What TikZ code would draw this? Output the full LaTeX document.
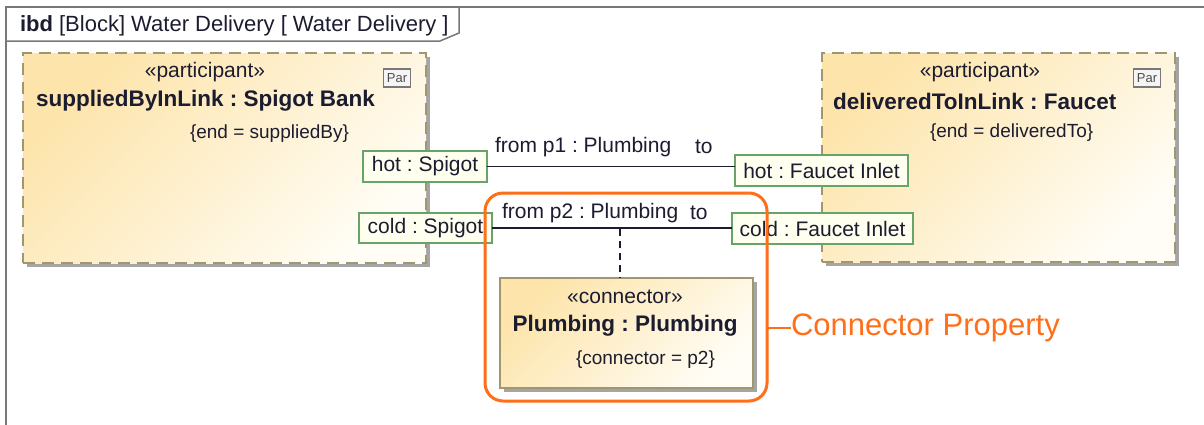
\documentclass[tikz,border=0pt]{standalone}
\usepackage{fontspec}
\setmainfont{Liberation Sans}
\usetikzlibrary{shadows}
\frenchspacing
\definecolor{framec}{RGB}{120,120,120}
\definecolor{txt}{RGB}{28,28,48}
\definecolor{blockA}{RGB}{253,228,170}
\definecolor{blockB}{RGB}{255,253,245}
\definecolor{blockline}{RGB}{160,150,112}
\definecolor{shadowc}{RGB}{165,165,165}
\definecolor{portline}{RGB}{104,164,104}
\definecolor{portfill}{RGB}{255,255,240}
\definecolor{orangec}{RGB}{255,110,24}
\tikzset{
  basetext/.style={inner sep=0pt, outer sep=0pt, text=txt, font=\fontsize{21}{24}\selectfont},
  boldtext/.style={basetext, font=\fontsize{22.5}{25}\selectfont\bfseries},
  smalltext/.style={basetext, font=\fontsize{19}{22}\selectfont},
  shadedfill/.style={top color=blockA, bottom color=blockB, shading angle=45},
  partblock/.style={rectangle, inner sep=0pt, outer sep=0pt, shadedfill,
     draw=blockline, line width=1.5pt, dash pattern=on 12pt off 7pt,
     drop shadow={shadow xshift=4pt, shadow yshift=-4pt, fill=shadowc, opacity=1, draw=none}},
  connbox/.style={rectangle, inner sep=0pt, outer sep=0pt, shadedfill,
     draw=blockline, line width=1.5pt,
     drop shadow={shadow xshift=4pt, shadow yshift=-4pt, fill=shadowc, opacity=1, draw=none}},
  portbox/.style={rectangle, inner sep=0pt, outer sep=0pt, draw=portline, line width=1.5pt,
     fill=portfill, text=txt, font=\fontsize{21}{24}\selectfont},
  paricon/.style={rectangle, inner sep=0pt, outer sep=0pt, draw=framec, line width=1.2pt,
     fill=white!92!gray, minimum width=27pt, minimum height=18pt, text=black!70,
     font=\fontsize{13}{14}\selectfont},
  wire/.style={draw=txt, line width=1.2pt},
  hilite/.style={rectangle, draw=orangec, line width=3pt, rounded corners=18pt,
     inner sep=0pt, outer sep=0pt},
}
\begin{document}
\begin{tikzpicture}[x=1pt,y=-1pt]
\useasboundingbox (0,0) rectangle (1204,424);
\fill[white] (0,0) rectangle (1204,424);
% frame
\draw[framec, line width=2pt] (1220,7) -- (6,7) -- (6,440);
\draw[framec, line width=1.5pt] (6,41) -- (440,41) -- (459,33) -- (459,7);
\node[basetext, font=\fontsize{22}{25}\selectfont, anchor=west] (title) at (20,26) {{\bfseries ibd} [Block] Water Delivery [ Water Delivery ]};

% participant blocks
\node[partblock, minimum width=403pt, minimum height=210pt] (sb) at (224.5,158) {};
\node[basetext, anchor=center] (sbst) at (205,72) {«participant»};
\node[boldtext, anchor=west] (sbname) at (36,101) {suppliedByInLink : Spigot Bank};
\node[smalltext, anchor=west] (sbtag) at (190,134) {\{end = suppliedBy\}};
\node[paricon] (sbpar) at (397,78) {Par};

\node[partblock, minimum width=353pt, minimum height=209pt] (dt) at (998.5,157.5) {};
\node[basetext, anchor=center] (dtst) at (980,72) {«participant»};
\node[boldtext, anchor=west] (dtname) at (833,101) {deliveredToInLink : Faucet};
\node[smalltext, anchor=west] (dttag) at (930,133) {\{end = deliveredTo\}};
\node[paricon] (dtpar) at (1147,78) {Par};

% ports
\node[portbox, minimum width=124pt, minimum height=31pt] (hotS) at (425,166.5) {hot : Spigot};
\node[portbox, minimum width=133pt, minimum height=30pt] (coldS) at (425.5,228) {cold : Spigot};
\node[portbox, minimum width=173pt, minimum height=31pt] (hotF) at (821.5,170.5) {hot : Faucet Inlet};
\node[portbox, minimum width=181pt, minimum height=31pt] (coldF) at (822.5,228.5) {cold : Faucet Inlet};

% connectors
\draw[wire] (hotS.east) -- (hotS.east -| hotF.west);
\draw[wire] (coldS.east) -- (coldS.east -| coldF.west);
\node[basetext, anchor=west] (l1) at (495,147) {from p1 : Plumbing};
\node[basetext, anchor=west] (l1to) at (695,147) {to};
\node[basetext, anchor=west] (l2) at (502,213) {from p2 : Plumbing};
\node[basetext, anchor=west] (l2to) at (690,213) {to};

% connector property
\node[connbox, minimum width=253pt, minimum height=110pt] (cbox) at (626.5,333) {};
\node[basetext, anchor=center] (cst) at (625,297) {«connector»};
\node[boldtext, anchor=center] (cname) at (625,326) {Plumbing : Plumbing};
\node[smalltext, anchor=west] (ctag) at (576,360) {\{connector = p2\}};
\coordinate (p2mid) at (620,229);
\draw[wire, dash pattern=on 7pt off 5pt] (p2mid) -- (p2mid |- cbox.north);

% highlight
\node[hilite, minimum width=282pt, minimum height=208pt] (hl) at (626,297) {};
\node[inner sep=0pt, outer sep=0pt, text=orangec, font=\fontsize{31}{35}\selectfont, anchor=west] (cp) at (791,328) {Connector Property};
\draw[orangec, line width=2.5pt] (hl.east |- cp.west) -- (cp.west);
\end{tikzpicture}
\end{document}
